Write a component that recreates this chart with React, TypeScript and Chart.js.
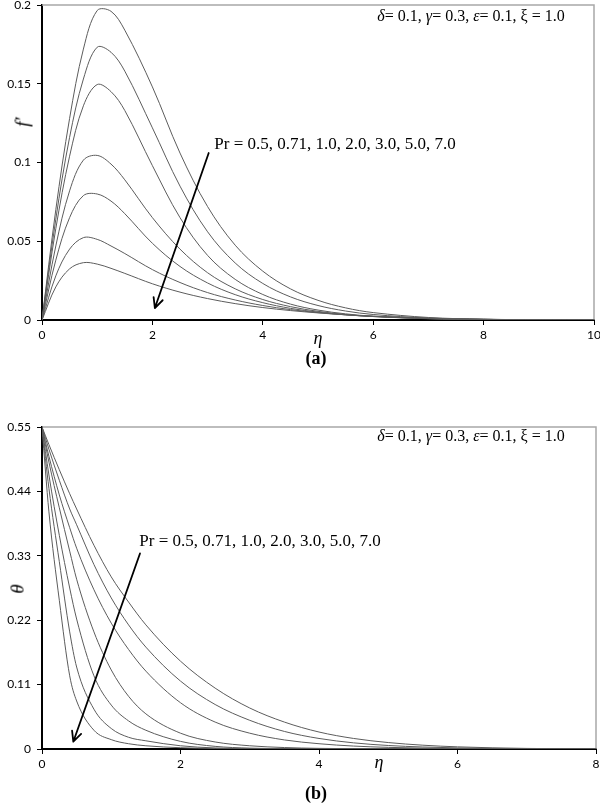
import React, { useEffect, useRef } from "react";
import { Chart, registerables } from "chart.js";

Chart.register(...registerables);

// ---------- Chart (a): f' vs eta ----------
const etaA = [0, 0.25, 0.5, 0.75, 1, 1.25, 1.5, 2, 2.5, 3, 3.5, 4, 4.5, 5, 5.5, 6, 7, 8, 9, 10];
const fPr05 = [0, 0.070, 0.128, 0.172, 0.1965, 0.196, 0.184, 0.148, 0.106, 0.072, 0.0475, 0.031, 0.0198, 0.0125, 0.0077, 0.0047, 0.0016, 0.0005, 0.0001, 0];
const fPr071 = [0, 0.064, 0.116, 0.153, 0.1732, 0.170, 0.158, 0.122, 0.085, 0.056, 0.0362, 0.0232, 0.0147, 0.0092, 0.0057, 0.0035, 0.0012, 0.0004, 0.0001, 0];
const fPr1 = [0, 0.058, 0.104, 0.136, 0.1495, 0.145, 0.133, 0.098, 0.065, 0.041, 0.0258, 0.0162, 0.0101, 0.0063, 0.0039, 0.0024, 0.0009, 0.0003, 0.0001, 0];
const fPr2 = [0, 0.047, 0.082, 0.1015, 0.1045, 0.099, 0.089, 0.065, 0.045, 0.030, 0.0198, 0.013, 0.0085, 0.0055, 0.0035, 0.0022, 0.0008, 0.0003, 0.0001, 0];
const fPr3 = [0, 0.038, 0.065, 0.079, 0.080, 0.0755, 0.0675, 0.0487, 0.034, 0.0235, 0.0161, 0.011, 0.0074, 0.005, 0.0033, 0.0022, 0.0009, 0.0003, 0.0001, 0];
const fPr5 = [0, 0.028, 0.045, 0.0523, 0.0512, 0.047, 0.0422, 0.032, 0.0238, 0.0174, 0.0127, 0.0092, 0.0066, 0.0047, 0.0033, 0.0023, 0.001, 0.0004, 0.0001, 0];
const fPr7 = [0, 0.021, 0.0325, 0.0364, 0.0355, 0.0328, 0.0296, 0.023, 0.0177, 0.0136, 0.0104, 0.0079, 0.006, 0.0045, 0.0033, 0.0024, 0.0012, 0.0005, 0.0001, 0];
const seriesA = [fPr05, fPr071, fPr1, fPr2, fPr3, fPr5, fPr7];
const xTicksA = [0, 2, 4, 6, 8, 10];
const yTicksA = [0, 0.05, 0.1, 0.15, 0.2];
const arrowA = { from: [3.02, 0.106], to: [2.045, 0.0076] };

// ---------- Chart (b): theta vs eta ----------
const etaB = [0, 0.1, 0.25, 0.4, 0.5, 0.75, 1, 1.25, 1.5, 2, 2.5, 3, 3.5, 4, 4.5, 5, 5.5, 6, 7, 8];
const thPr05 = [0.55, 0.52, 0.477, 0.436, 0.41, 0.348, 0.294, 0.251, 0.212, 0.15, 0.104, 0.07, 0.046, 0.029, 0.018, 0.011, 0.0065, 0.0037, 0.001, 0.0002];
const thPr071 = [0.55, 0.512, 0.459, 0.41, 0.383, 0.315, 0.258, 0.212, 0.174, 0.116, 0.076, 0.049, 0.03, 0.018, 0.0105, 0.006, 0.0034, 0.0019, 0.0005, 0.0001];
const thPr1 = [0.55, 0.5, 0.434, 0.378, 0.343, 0.272, 0.215, 0.17, 0.133, 0.079, 0.046, 0.027, 0.0155, 0.009, 0.005, 0.0028, 0.0015, 0.0008, 0.0002, 0];
const thPr2 = [0.55, 0.49, 0.412, 0.338, 0.29, 0.2, 0.135, 0.09, 0.06, 0.027, 0.012, 0.0055, 0.0025, 0.0011, 0.0005, 0.0002, 0.0001, 0, 0, 0];
const thPr3 = [0.55, 0.468, 0.365, 0.275, 0.222, 0.125, 0.075, 0.048, 0.032, 0.013, 0.0045, 0.0015, 0.0005, 0.0001, 0, 0, 0, 0, 0, 0];
const thPr5 = [0.55, 0.445, 0.32, 0.2, 0.14, 0.068, 0.035, 0.02, 0.014, 0.0055, 0.0018, 0.0006, 0.0002, 0, 0, 0, 0, 0, 0, 0];
const thPr7 = [0.55, 0.405, 0.254, 0.125, 0.082, 0.032, 0.016, 0.009, 0.0055, 0.0022, 0.0008, 0.0002, 0, 0, 0, 0, 0, 0, 0, 0];
const seriesB = [thPr05, thPr071, thPr1, thPr2, thPr3, thPr5, thPr7];
const xTicksB = [0, 2, 4, 6, 8];
const yTicksB = [0, 0.11, 0.22, 0.33, 0.44, 0.55];
const arrowB = { from: [1.415, 0.334], to: [0.452, 0.0125] };

const prValues = ["0.5", "0.71", "1.0", "2.0", "3.0", "5.0", "7.0"];

const TICK_FONT = { family: "Lato, 'Open Sans', sans-serif", size: 12 };
const SERIF = "'Liberation Serif', 'Times New Roman', serif";

function framePlugin(arrow: { from: number[]; to: number[] }) {
  return {
    id: "frameArrow",
    beforeDatasetsDraw(chart: any) {
      const { ctx, chartArea: a } = chart;
      ctx.save();
      ctx.strokeStyle = "#a8a8a8";
      ctx.lineWidth = 1.5;
      ctx.beginPath();
      ctx.moveTo(a.left, a.top);
      ctx.lineTo(a.right, a.top);
      ctx.lineTo(a.right, a.bottom);
      ctx.stroke();
      ctx.restore();
    },
    afterDatasetsDraw(chart: any) {
      const { ctx } = chart;
      const xs = chart.scales.x;
      const ys = chart.scales.y;
      const x1 = xs.getPixelForValue(arrow.from[0]);
      const y1 = ys.getPixelForValue(arrow.from[1]);
      const x2 = xs.getPixelForValue(arrow.to[0]);
      const y2 = ys.getPixelForValue(arrow.to[1]);
      const ang = Math.atan2(y2 - y1, x2 - x1);
      const len = 11;
      const spread = 0.45;
      ctx.save();
      ctx.strokeStyle = "#000";
      ctx.lineWidth = 1.8;
      ctx.lineCap = "round";
      ctx.lineJoin = "round";
      ctx.beginPath();
      ctx.moveTo(x1, y1);
      ctx.lineTo(x2, y2);
      ctx.moveTo(x2 - len * Math.cos(ang - spread), y2 - len * Math.sin(ang - spread));
      ctx.lineTo(x2, y2);
      ctx.lineTo(x2 - len * Math.cos(ang + spread), y2 - len * Math.sin(ang + spread));
      ctx.stroke();
      ctx.restore();
    },
  };
}

function makeConfig(
  eta: number[],
  series: number[][],
  xTicks: number[],
  yTicks: number[],
  xMax: number,
  yMax: number,
  xHeight: number,
  padding: any,
  arrow: any,
  tension: number,
  monotone: boolean,
  yFmt: (v: number) => string
): any {
  return {
    type: "line",
    data: {
      datasets: series.map((s, k) => ({
        label: "Pr = " + prValues[k],
        data: eta.map((e, i) => ({ x: e, y: s[i] })),
        borderColor: "#5c5c5c",
        borderWidth: 1,
        pointRadius: 0,
        fill: false,
        tension,
        cubicInterpolationMode: monotone ? "monotone" : "default",
      })),
    },
    options: {
      responsive: false,
      animation: false,
      events: [],
      layout: { padding },
      plugins: { legend: { display: false }, tooltip: { enabled: false } },
      scales: {
        x: {
          type: "linear",
          min: 0,
          max: xMax,
          afterBuildTicks: (s: any) => {
            s.ticks = xTicks.map((v) => ({ value: v }));
          },
          afterFit: (s: any) => {
            s.height = xHeight;
            s.paddingLeft = 0;
            s.paddingRight = 0;
          },
          ticks: { color: "#000", font: TICK_FONT, padding: 3, maxRotation: 0, autoSkip: false },
          grid: { drawOnChartArea: false, drawTicks: true, tickLength: 5, color: "#000", lineWidth: 1 },
          border: { display: true, color: "#000", width: 2 },
        },
        y: {
          type: "linear",
          min: 0,
          max: yMax,
          afterBuildTicks: (s: any) => {
            s.ticks = yTicks.map((v) => ({ value: v }));
          },
          afterFit: (s: any) => {
            s.width = 42;
            s.paddingTop = 0;
            s.paddingBottom = 0;
          },
          ticks: {
            color: "#000",
            font: TICK_FONT,
            padding: 6,
            autoSkip: false,
            callback: (v: number) => yFmt(v),
          },
          grid: { drawOnChartArea: false, drawTicks: true, tickLength: 5, color: "#000", lineWidth: 1 },
          border: { display: true, color: "#000", width: 2 },
        },
      },
    },
    plugins: [framePlugin(arrow)],
  };
}

const Txt = ({ x, y, children, style }: any) => (
  <div
    style={{
      position: "absolute",
      left: x,
      top: y,
      transform: "translate(-50%, -50%)",
      whiteSpace: "nowrap",
      fontFamily: SERIF,
      lineHeight: 1,
      color: "#000",
      ...style,
    }}
  >
    {children}
  </div>
);

const Params = () => (
  <span>
    <i>δ</i>= 0.1, <i>γ</i>= 0.3, <i>ε</i>= 0.1, ξ = 1.0
  </span>
);

export default function App() {
  const refA = useRef<HTMLCanvasElement>(null);
  const refB = useRef<HTMLCanvasElement>(null);

  useEffect(() => {
    const ca = new Chart(
      refA.current as HTMLCanvasElement,
      makeConfig(etaA, seriesA, xTicksA, yTicksA, 10, 0.2, 25, { top: 5, right: 26, left: 0, bottom: 0 }, arrowA, 0.35, false, (v) => String(Math.round(v * 100) / 100))
    );
    const cb = new Chart(
      refB.current as HTMLCanvasElement,
      makeConfig(etaB, seriesB, xTicksB, yTicksB, 8, 0.55, 21, { top: 7, right: 24, left: 0, bottom: 0 }, arrowB, 0, true, (v) => (v === 0 ? "0" : v.toFixed(2)))
    );
    return () => {
      ca.destroy();
      cb.destroy();
    };
  }, []);

  const prText = "Pr = " + prValues.join(", ");

  return (
    <div style={{ position: "absolute", left: 0, top: 0, width: 600, height: 803, background: "#fff", overflow: "hidden" }}>
      <canvas ref={refA} width={620} height={345} style={{ position: "absolute", left: 0, top: 0 }} />
      <canvas ref={refB} width={620} height={350} style={{ position: "absolute", left: 0, top: 420 }} />

      {/* chart (a) texts */}
      <Txt x={471} y={16} style={{ fontSize: 16 }}><Params /></Txt>
      <Txt x={335} y={143} style={{ fontSize: 17 }}>{prText}</Txt>
      <Txt x={22} y={122} style={{ fontSize: 19, fontStyle: "italic", transform: "translate(-50%, -50%) rotate(-90deg)" }}>f′</Txt>
      <Txt x={318} y={338} style={{ fontSize: 18, fontStyle: "italic" }}>η</Txt>
      <Txt x={316} y={358} style={{ fontSize: 18, fontWeight: "bold" }}>(a)</Txt>

      {/* chart (b) texts */}
      <Txt x={471} y={436} style={{ fontSize: 16 }}><Params /></Txt>
      <Txt x={260} y={540} style={{ fontSize: 17 }}>{prText}</Txt>
      <Txt x={17} y={589} style={{ fontSize: 19, fontStyle: "italic", transform: "translate(-50%, -50%) rotate(-90deg)" }}>θ</Txt>
      <Txt x={379} y={762} style={{ fontSize: 18, fontStyle: "italic" }}>η</Txt>
      <Txt x={316} y={793} style={{ fontSize: 18, fontWeight: "bold" }}>(b)</Txt>
    </div>
  );
}
